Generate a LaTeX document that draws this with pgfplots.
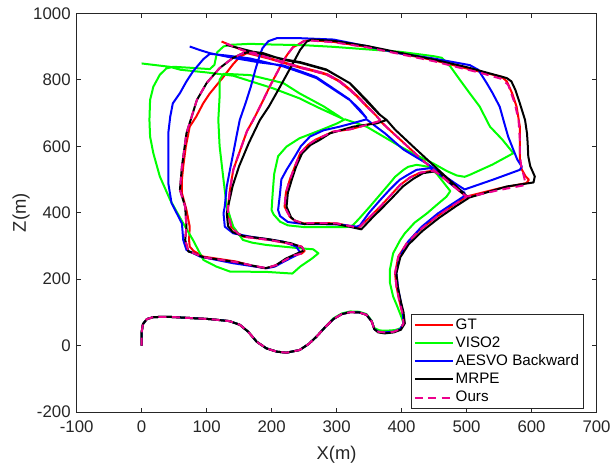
\documentclass[border=0pt]{standalone}
\usepackage{pgfplots}
\pgfplotsset{compat=1.18}
\usepackage{fontspec}
\setmainfont{Liberation Sans}
\definecolor{axgray}{rgb}{0.15,0.15,0.15}
\begin{document}
\begin{tikzpicture}
\path[use as bounding box] (-57.5pt,-41.8pt) rectangle (400.1pt,309.2pt);
\begin{axis}[
  at={(0,0)}, anchor=south west,
  scale only axis, width=390pt, height=299.25pt,
  xmin=-100, xmax=700, ymin=-200, ymax=1000,
  xtick={-100,0,...,700}, ytick={-200,0,...,1000},
  tick align=inside, major tick length=3.5pt,
  axis line style={axgray, line width=0.5pt},
  tick style={axgray, line width=0.5pt},
  /pgf/number format/assume math mode=true,
  /pgf/number format/1000 sep={},
  every tick label/.append style={font=\fontsize{12.6}{14}\selectfont, text=axgray},
  xticklabel style={yshift=-3pt},
  yticklabel style={xshift=-1pt},
  xlabel={X(m)}, ylabel={Z(m)},
  xlabel style={at={(axis description cs:0.5,-0.107)}, anchor=center, font=\fontsize{13.8}{16}\selectfont, text=axgray},
  ylabel style={at={(axis description cs:-0.107,0.5)}, anchor=center, rotate=0, font=\fontsize{13.8}{16}\selectfont, text=axgray},
  legend style={at={(0.9746,0.01)}, anchor=south east, draw=axgray, line width=0.5pt,
    font=\fontsize{11.4}{13}\selectfont, text=black, inner xsep=2pt, inner ysep=1.5pt, row sep=1.1pt,
    nodes={inner sep=1pt, text height=8.5pt, text depth=2pt}},
  legend cell align=left,
  legend image code/.code={\draw[#1] (0pt,0pt) -- (28.8pt,0pt);},
  every axis plot/.append style={line width=1.5pt, line join=round},
]
% GT
\addplot[red] coordinates {
(0,0) (0,40) (2,65) (8,80) (18,86) (40,87) (105,80) (135,74) (151,63) (164,42) (177,12) (192,-8) (208,-18) (223,-21) (243,-13) (257,5) (269,27) (282,55) (295,80) (308,95) (321,101) (335,100) (346,93) (354,73) (358,50) (364,42) (374,40) (388,42) (398,50) (403,67) (401,100) (396,140) (392,180) (390,218) (395,268) (408,308) (428,348) (454,388) (480,423) (500,448)
(488,467) (475,488) (462,510) (449,526) (440,524) (428,520) (413,506) (398,484) (384,454) (367,418) (350,385) (334,355) (320,360) (300,368) (270,369) (249,368) (235,377) (228,388) (220,418) (222,460) (228,499) (236,540) (244,579) (256,604) (268,620) (295,644) (321,651) (346,664) (367,676)
(380,652) (395,625) (410,598) (425,571) (440,545) (455,520) (470,496) (485,472) (500,449)
(511,454) (552,474) (592,489) (596,499) (591,509) (585,530) (582,559) (582,600) (582,659) (577,719) (570,760) (562,795) (554,809) (521,824) (500,834) (449,859) (398,879) (346,899) (295,914) (260,919) (250,917)
(242,907) (233,898) (225,878) (218,857) (208,820) (197,779) (185,730) (172,680) (162,645) (152,590) (141,529) (136,470) (133,418) (133,398) (138,358) (148,338) (157,328) (197,318) (225,308) (246,298) (251,285) (246,277) (233,271) (208,243) (192,233) (170,240) (146,253) (95,268) (80,285) (74,298) (73,318) (74,358) (69,408) (62,459) (62,500) (64,539) (68,599) (74,659) (84,689) (95,730) (105,759) (126,809) (140,845) (151,869) (162,880)
(175,874) (195,864) (218,851) (244,836) (265,826) (285,815) (304,795) (320,770) (334,745) (346,720) (358,698) (367,679)
(357,700) (346,722) (334,747) (320,772) (304,797) (285,817) (265,828) (244,838) (218,853) (195,866) (167,880) (145,897) (123,915)
};
\addlegendentry{GT}
% VISO2
\addplot[green] coordinates {
(0,0) (0,40) (2,65) (8,80) (18,86) (40,87) (105,80) (135,74) (151,63) (164,42) (177,12) (192,-8) (208,-18) (223,-21) (243,-13) (257,5) (269,27) (282,55) (295,82) (308,97) (321,103) (335,102) (346,95) (354,75) (358,53) (366,46) (376,45) (390,47) (399,53) (403,67) (400,85) (393,120) (387,148) (382,190) (382,228) (387,278) (398,318) (405,338) (420,370) (439,398) (455,425) (469,448) (475,465)
(465,490) (455,515) (444,537) (430,542) (423,544) (410,538) (403,529) (390,508) (382,489) (365,450) (351,418) (336,385) (325,362) (315,357) (300,357) (249,357) (225,362) (213,373) (203,395) (200,408) (201,440) (202,469) (204,517) (210,570) (223,599) (243,624) (280,652) (300,668) (313,681)
(346,659) (380,620) (398,599) (420,576) (449,548) (470,525) (485,512) (497,508)
(505,514) (540,545) (572,579) (555,620) (536,659) (520,720) (505,759) (490,799) (475,840) (462,866) (449,871) (398,884) (350,891) (295,899) (249,904) (200,906) (167,908) (135,905) (126,900) (116,882) (112,845) (105,832) (75,836) (49,839) (38,834)
(28,815) (18,779) (13,739) (12,679) (13,629) (18,579) (28,509) (44,438) (64,368) (79,318) (95,258) (115,238) (136,223) (192,222) (232,217) (244,238) (262,262) (272,278) (264,290) (244,293) (192,303) (170,310) (156,318) (141,358) (131,418) (126,499) (120,600) (118,679) (120,750) (120,800) (126,818)
(167,814) (218,790) (243,759) (280,720) (310,682)
(270,718) (243,744) (201,775) (141,812) (100,822) (60,830) (43,839) (0,849)
};
\addlegendentry{VISO2}
% AESVO Backward
\addplot[blue] coordinates {
(0,0) (0,40) (2,65) (8,80) (18,86) (40,87) (105,80) (135,74) (151,63) (164,42) (177,12) (192,-8) (208,-18) (223,-21) (243,-13) (257,5) (269,27) (282,55) (295,80) (308,95) (321,101) (335,100) (346,93) (354,73) (358,50) (364,42) (374,40) (388,42) (398,50) (403,67) (402,100) (398,140) (395,168) (392,218) (397,268) (410,313) (431,358) (456,398) (480,429) (495,448) (497,460)
(480,480) (465,505) (452,524) (444,534) (423,529) (408,512) (397,499) (382,470) (367,438) (350,400) (336,362) (331,358) (315,362) (300,365) (250,366) (225,372) (213,390) (210,408) (213,459) (215,500) (223,529) (236,570) (245,600) (259,629) (280,648) (305,659) (330,672) (346,681)
(360,660) (375,638) (390,612) (403,590) (420,570) (438,549) (455,526) (470,505) (485,485) (497,470)
(540,499) (582,529) (585,539) (578,560) (564,629) (558,670) (551,719) (540,760) (531,790) (518,830) (505,844) (449,864) (398,879) (346,901) (295,921) (244,925) (208,925) (195,916) (186,895) (182,875) (175,830) (168,779) (160,730) (151,679) (146,630) (141,579) (136,530) (131,479) (128,420) (126,398) (128,358) (141,338) (167,328) (218,313) (238,298) (244,280) (238,272) (218,252) (205,238) (192,233) (141,248) (90,268) (69,288) (64,318) (62,368) (46,429) (41,489) (41,560) (41,639) (44,689) (48,729) (59,760) (69,795) (79,825) (95,862) (105,878)
(130,873) (167,864) (190,853) (218,840) (245,822) (269,805) (300,765) (321,738) (335,712) (346,685)
(333,712) (319,742) (300,767) (269,808) (245,825) (218,843) (182,852) (140,866) (105,880) (90,889) (74,900)
};
\addlegendentry{AESVO Backward}
% MRPE
\addplot[black] coordinates {
(0,0) (0,40) (2,65) (8,80) (18,86) (40,87) (105,80) (135,74) (151,63) (164,42) (177,12) (192,-8) (208,-18) (223,-21) (243,-13) (257,5) (269,27) (282,55) (295,80) (308,95) (321,101) (335,100) (346,93) (354,73) (358,50) (364,40) (374,37) (388,40) (399,48) (405,67) (403,100) (398,140) (394,180) (392,218) (398,266) (411,305) (432,345) (458,385) (484,420) (503,444)
(490,465) (478,485) (466,505) (459,522) (450,524) (433,519) (418,502) (402,479) (387,448) (372,418) (354,383) (338,350) (322,357) (300,366) (270,367) (250,366) (237,374) (230,386) (223,418) (225,460) (231,499) (238,540) (247,579) (260,604) (274,619) (290,639) (326,659) (362,669) (377,679)
(390,650) (420,595) (450,541) (480,487) (503,445)
(510,449) (562,479) (603,491) (605,509) (598,540) (595,569) (594,610) (593,639) (590,679) (582,729) (575,770) (569,795) (562,805) (500,838) (449,861) (398,881) (346,902) (295,917) (262,921) (254,915)
(244,890) (233,850) (213,779) (196,720) (182,679) (165,610) (150,540) (140,480) (133,418) (131,398) (133,360) (140,342) (156,330) (197,320) (230,308) (247,296) (249,286) (240,278) (222,262) (205,240) (190,233) (146,251) (95,266) (78,280) (72,283) (67,318) (69,358) (67,418) (59,469) (62,539) (69,639) (85,739) (100,790) (120,835) (140,865) (156,880) (172,884) (187,880)
(218,860) (244,851) (285,829) (321,789) (346,739) (367,694) (377,679)
(365,697) (344,740) (320,790) (284,831) (244,853) (218,862) (190,875) (160,890) (130,905)
};
\addlegendentry{MRPE}
% Ours
\addplot[magenta, dash pattern=on 6pt off 4pt] coordinates {
(0,0) (0,40) (2,65) (8,80) (18,86) (40,87) (105,80) (135,74) (151,63) (164,42) (177,12) (192,-8) (208,-18) (223,-21) (243,-13) (257,5) (269,27) (282,55) (295,80) (308,95) (321,101) (335,100) (346,93) (354,73) (358,50) (364,42) (374,40) (388,42) (398,50) (403,67) (401,100) (396,140) (392,180) (390,218) (395,268) (408,308) (428,348) (454,388) (480,423) (500,448)
(488,467) (475,488) (462,510) (449,526) (440,524) (428,520) (413,506) (398,484) (384,454) (367,418) (350,385) (334,355) (320,360) (300,368) (270,369) (249,368) (235,377) (228,388) (220,418) (222,460) (228,499) (236,540) (244,579) (256,604) (268,620) (295,644) (321,651) (346,664) (367,676)
(380,652) (395,625) (410,598) (425,571) (440,545) (455,520) (470,496) (485,472) (500,449)
(511,451) (552,469) (587,482) (590,495) (587,519) (584,540) (582,580) (582,620) (580,679) (574,730) (564,785) (553,803) (521,821) (500,831) (449,856) (398,877) (346,898) (295,913) (260,918) (250,916)
(242,907) (233,898) (225,878) (218,857) (208,820) (197,779) (185,730) (172,680) (162,645) (152,590) (141,529) (136,470) (133,418) (133,398) (138,358) (148,338) (157,328) (197,318) (225,308) (246,298) (251,285) (246,277) (233,271) (208,243) (192,233) (146,251) (95,266) (78,280) (72,283) (67,318) (69,358) (67,418) (59,469) (62,539) (69,639) (85,739) (100,790) (120,835) (140,865) (156,880) (172,882)
(195,866) (218,851) (244,836) (265,826) (285,815) (304,795) (320,770) (334,745) (346,720) (358,698) (367,679)
(357,700) (346,722) (334,747) (320,772) (304,797) (285,817) (265,828) (244,838) (218,853) (195,866) (167,880) (145,897) (125,913)
};
\addlegendentry{Ours}
\end{axis}
\end{tikzpicture}
\end{document}
